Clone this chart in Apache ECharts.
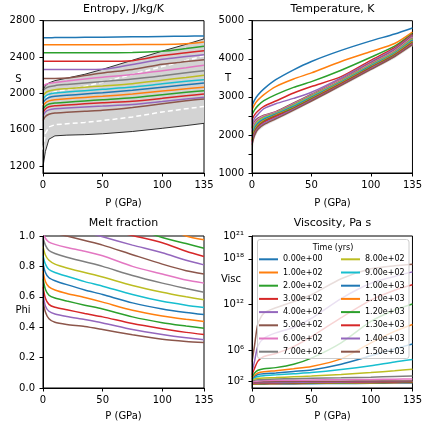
<!DOCTYPE html>
<html><head><meta charset="utf-8">
<script src="https://cdn.jsdelivr.net/npm/echarts@6/dist/echarts.min.js"></script>
<style>html,body{margin:0;padding:0;background:#fff}#c{width:425px;height:428px}</style>
</head><body><div id="c"></div>
<script>
// ---------------- data ----------------
const pressure = [0, 2, 5, 10, 20, 35, 50, 75, 100, 120, 135];
const timeLabels = ['0.00e+00','1.00e+02','2.00e+02','3.00e+02','4.00e+02','5.00e+02','6.00e+02','7.00e+02',
                    '8.00e+02','9.00e+02','1.00e+03','1.10e+03','1.20e+03','1.30e+03','1.40e+03','1.50e+03'];
const lineColors = ['#1f77b4','#ff7f0e','#2ca02c','#d62728','#9467bd','#8c564b','#e377c2','#7f7f7f',
                    '#bcbd22','#17becf','#1f77b4','#ff7f0e','#2ca02c','#d62728','#9467bd','#8c564b'];

const pTicks = [0, 50, 100, 135];
const entropyTicks = [1200, 1600, 2000, 2400, 2800];
const temperatureTicks = [1000, 1500, 2000, 2500, 3000, 3500, 4000, 4500, 5000];
const temperatureLabels = [1000, 2000, 3000, 4000, 5000];
const phiTicks = [0, 0.2, 0.4, 0.6, 0.8, 1.0];
const viscosityTicks = [1e2, 1e6, 1e12, 1e18, 1e21];

// Entropy (J/kg/K)
const entropySolidus  = [1195, 1360, 1495, 1532, 1540, 1545, 1555, 1580, 1615, 1645, 1670];
const entropyLiquidus = [2040, 2085, 2115, 2140, 2168, 2210, 2265, 2365, 2465, 2540, 2600];
const entropyDashLow  = [1380, 1560, 1630, 1655, 1665, 1680, 1700, 1740, 1795, 1830, 1855];
const entropyDashHigh = [1870, 1940, 1990, 2018, 2042, 2077, 2123, 2208, 2295, 2362, 2414];
const entropyByTime = [
  [2612,2612,2613,2614,2615,2617,2619,2622,2626,2629,2632],
  [2536,2536,2536,2536,2536,2536,2536,2537,2538,2547,2566],
  [2448,2448,2448,2448,2448,2448,2448,2449,2463,2493,2518],
  [2353,2353,2353,2353,2353,2353,2353,2360,2416,2447,2470],
  [2262,2262,2262,2262,2262,2262,2265,2318,2376,2405,2426],
  [2163,2163,2163,2163,2168,2196,2225,2263,2320,2350,2371],
  [2078,2098,2110,2120,2135,2158,2178,2208,2250,2283,2309],
  [2030,2055,2072,2085,2098,2115,2130,2158,2195,2228,2250],
  [1975,2005,2025,2040,2052,2068,2082,2107,2145,2175,2199],
  [1935,1968,1990,2004,2015,2030,2045,2070,2105,2132,2150],
  [1895,1930,1955,1968,1978,1993,2007,2034,2068,2095,2114],
  [1860,1895,1917,1930,1940,1955,1968,1993,2025,2050,2067],
  [1825,1860,1882,1894,1903,1917,1930,1952,1985,2012,2030],
  [1790,1828,1852,1864,1872,1885,1897,1914,1945,1973,1993],
  [1750,1795,1818,1831,1838,1850,1860,1878,1910,1937,1957],
  [1700,1745,1770,1784,1792,1803,1813,1845,1885,1918,1938]
];

// Temperature (K)
const temperatureSolidus  = [1500,1880,2090,2220,2380,2610,2850,3260,3680,4010,4320];
const temperatureLiquidus = [2180,2340,2440,2520,2610,2840,3070,3460,3890,4230,4600];
const temperatureByTime = [
  [2770,2910,3050,3210,3450,3710,3930,4220,4470,4650,4810],
  [2660,2790,2915,3060,3270,3470,3630,3930,4190,4400,4700],
  [2530,2650,2770,2900,3060,3250,3400,3700,4040,4330,4660],
  [2400,2520,2630,2750,2890,3100,3270,3530,3960,4290,4640],
  [2290,2430,2540,2690,2820,2960,3120,3500,3920,4260,4620],
  [2180,2340,2440,2520,2610,2840,3070,3460,3890,4230,4600],
  [2120,2300,2410,2498,2595,2820,3052,3445,3872,4210,4575],
  [2070,2260,2380,2475,2580,2800,3035,3428,3855,4190,4550],
  [2020,2220,2350,2452,2565,2780,3017,3412,3838,4172,4525],
  [1975,2180,2320,2430,2550,2760,3000,3395,3820,4155,4500],
  [1930,2145,2290,2405,2535,2740,2982,3380,3804,4137,4478],
  [1890,2110,2260,2382,2518,2722,2965,3363,3788,4120,4455],
  [1850,2075,2230,2358,2502,2703,2945,3347,3770,4102,4432],
  [1815,2040,2205,2335,2485,2685,2928,3331,3754,4085,4410],
  [1778,2010,2178,2302,2452,2668,2910,3315,3737,4072,4395],
  [1740,1980,2150,2270,2420,2650,2890,3300,3720,4060,4370]
];

// Melt fraction
const meltFractionByTime = [
  [1.90,1.70,1.60,1.55,1.50,1.42,1.35,1.25,1.15,1.08,1.03],
  [1.75,1.55,1.45,1.40,1.35,1.30,1.24,1.16,1.07,1.00,0.975],
  [1.64,1.45,1.36,1.30,1.26,1.20,1.14,1.06,0.99,0.95,0.92],
  [1.52,1.35,1.26,1.20,1.16,1.10,1.05,1.003,0.955,0.90,0.865],
  [1.40,1.24,1.15,1.10,1.07,1.03,0.995,0.94,0.89,0.84,0.81],
  [1.26,1.12,1.05,1.02,1.00,0.97,0.94,0.877,0.815,0.772,0.75],
  [1.02,0.985,0.96,0.945,0.925,0.90,0.87,0.80,0.75,0.71,0.69],
  [0.99,0.94,0.905,0.885,0.86,0.83,0.80,0.74,0.69,0.655,0.63],
  [0.93,0.875,0.84,0.815,0.79,0.76,0.73,0.675,0.63,0.60,0.58],
  [0.87,0.815,0.78,0.76,0.735,0.70,0.67,0.615,0.57,0.545,0.53],
  [0.82,0.76,0.725,0.706,0.68,0.645,0.615,0.56,0.52,0.497,0.483],
  [0.77,0.70,0.665,0.645,0.622,0.595,0.565,0.512,0.474,0.452,0.438],
  [0.717,0.65,0.61,0.592,0.572,0.545,0.52,0.468,0.43,0.408,0.393],
  [0.665,0.59,0.55,0.531,0.515,0.49,0.468,0.424,0.39,0.366,0.352],
  [0.62,0.54,0.505,0.487,0.47,0.45,0.428,0.385,0.352,0.33,0.317],
  [0.57,0.50,0.455,0.432,0.418,0.405,0.385,0.35,0.32,0.306,0.30]
];

// Viscosity, log10 (Pa s)
const viscosityLog10ByTime = [
  [1.55,1.56,1.57,1.58,1.60,1.62,1.64,1.67,1.70,1.72,1.75],
  [1.60,1.61,1.62,1.63,1.65,1.67,1.69,1.72,1.75,1.78,1.80],
  [1.65,1.66,1.67,1.68,1.70,1.72,1.74,1.77,1.80,1.83,1.85],
  [1.70,1.71,1.72,1.73,1.75,1.77,1.79,1.83,1.86,1.88,1.90],
  [1.75,1.76,1.78,1.79,1.80,1.82,1.85,1.88,1.91,1.93,1.95],
  [1.80,1.85,1.88,1.90,1.92,1.94,1.96,1.98,2.00,2.00,2.00],
  [1.90,1.95,2.00,2.05,2.08,2.10,2.12,2.17,2.20,2.24,2.27],
  [2.00,2.10,2.15,2.20,2.25,2.30,2.35,2.42,2.50,2.60,2.66],
  [2.10,2.25,2.35,2.40,2.45,2.55,2.65,2.85,3.10,3.35,3.55],
  [2.20,2.45,2.60,2.70,2.80,2.95,3.10,3.50,4.00,4.50,4.80],
  [2.30,2.60,2.85,2.95,3.05,3.25,3.45,4.20,5.30,6.20,6.85],
  [2.40,2.75,3.05,3.20,3.35,3.60,3.90,4.90,7.00,8.50,9.40],
  [2.50,3.00,3.40,3.60,3.75,4.20,5.00,7.00,9.80,11.30,12.10],
  [2.80,3.60,4.60,5.20,5.60,6.50,7.80,10.30,12.60,13.90,14.60],
  [3.20,4.50,6.60,7.60,8.30,9.00,10.20,12.80,14.80,15.70,16.30],
  [4.50,6.50,9.50,10.90,11.60,12.40,13.30,15.40,16.70,17.10,17.30]
];

// ---------------- chart ----------------
const FONT = 'DejaVu Sans';
const SMOOTH = 0.25;
const supMap = {'0':'\u2070','1':'\u00b9','2':'\u00b2','3':'\u00b3','4':'\u2074','5':'\u2075','6':'\u2076','7':'\u2077','8':'\u2078','9':'\u2079'};
function pts(arr, f) { return pressure.map((p, j) => [p, f ? f(arr[j]) : arr[j]]); }

const grids = [
  {left: 43, top: 20.7, width: 161, height: 152.3},
  {left: 252, top: 20.7, width: 161, height: 152.3},
  {left: 43, top: 236, width: 161, height: 152},
  {left: 252, top: 236, width: 161, height: 152}
].map(g => Object.assign(g, {show: true, borderColor: '#000', borderWidth: 1, backgroundColor: 'transparent', containLabel: false}));

function xAxisFor(i) {
  return {
    gridIndex: i, type: 'value', min: 0, max: 135, z: 10,
    axisLine: {show: true, onZero: false, lineStyle: {color: '#000', width: 1}},
    axisTick: {show: true, length: 3.5, lineStyle: {color: '#000', width: 1}, customValues: pTicks},
    axisLabel: {customValues: pTicks, color: '#000', fontSize: 10, fontFamily: FONT, margin: 7, formatter: v => String(v)},
    splitLine: {show: false}
  };
}
function yBase(i) {
  return {
    gridIndex: i, z: 10,
    axisLine: {show: true, onZero: false, lineStyle: {color: '#000', width: 1}},
    axisTick: {show: true, length: 3.5, lineStyle: {color: '#000', width: 1}},
    axisLabel: {color: '#000', fontSize: 10, fontFamily: FONT, margin: 8, formatter: v => String(v)},
    splitLine: {show: false}
  };
}
const yAxes = [
  Object.assign(yBase(0), {type: 'value', min: 1123, max: 2800}),
  Object.assign(yBase(1), {type: 'value', min: 1000, max: 5000}),
  Object.assign(yBase(2), {type: 'value', min: 0, max: 1}),
  Object.assign(yBase(3), {type: 'log', logBase: 10, min: Math.pow(10, 1.08), max: 1.0005e21})
];
yAxes[0].axisTick.customValues = entropyTicks; yAxes[0].axisLabel.customValues = entropyTicks;
yAxes[1].axisTick.customValues = temperatureTicks; yAxes[1].axisLabel.customValues = temperatureLabels;
yAxes[2].axisTick.customValues = phiTicks; yAxes[2].axisLabel.customValues = phiTicks;
yAxes[2].axisLabel.formatter = v => v.toFixed(1);
yAxes[3].axisTick.customValues = viscosityTicks; yAxes[3].axisLabel.customValues = viscosityTicks;
yAxes[3].axisLabel.formatter = v => '10' + String(Math.round(Math.log10(v))).split('').map(c => supMap[c]).join('');

const series = [];
// Mixed-phase bands as polygons through the axes' scales
function bandSeries(idx, lower, upper, color) {
  return {
    type: 'custom', xAxisIndex: idx, yAxisIndex: idx, data: [[0, lower[0]]], z: 1, silent: true, clip: true,
    renderItem: function (params, api) {
      const top = pressure.map((p, j) => api.coord([p, upper[j]]));
      const bottom = pressure.map((p, j) => api.coord([p, lower[j]])).reverse();
      return {type: 'polygon', shape: {points: top.concat(bottom)}, style: {fill: color, stroke: null}};
    }
  };
}
series.push(bandSeries(0, entropySolidus, entropyLiquidus, '#d3d3d3'));
series.push(bandSeries(1, temperatureSolidus, temperatureLiquidus, '#e3e3e3'));
series.push({type: 'line', xAxisIndex: 0, yAxisIndex: 0, data: pts(entropySolidus), symbol: 'none', smooth: 0,
  lineStyle: {color: '#000', width: 0.8}, z: 2, silent: true});
series.push({type: 'line', xAxisIndex: 0, yAxisIndex: 0, data: pts(entropyLiquidus), symbol: 'none', smooth: 0,
  lineStyle: {color: '#000', width: 0.8}, z: 2, silent: true});
series.push({type: 'line', xAxisIndex: 0, yAxisIndex: 0, data: pts(entropyDashLow), symbol: 'none', smooth: 0,
  lineStyle: {color: '#fff', width: 1.5, type: [5, 3]}, z: 2, silent: true});
series.push({type: 'line', xAxisIndex: 0, yAxisIndex: 0, data: pts(entropyDashHigh), symbol: 'none', smooth: 0,
  lineStyle: {color: '#fff', width: 1.5, type: [5, 3]}, z: 2, silent: true});

function addLines(values, idx, f) {
  values.forEach((arr, i) => {
    series.push({name: timeLabels[i], type: 'line', xAxisIndex: idx, yAxisIndex: idx, data: pts(arr, f),
      symbol: 'none', smooth: SMOOTH, clip: true,
      lineStyle: {color: lineColors[i], width: 1.5}, itemStyle: {color: lineColors[i]}, z: 3, silent: true});
  });
}
addLines(entropyByTime, 0);
addLines(temperatureByTime, 1);
addLines(meltFractionByTime, 2);
addLines(viscosityLog10ByTime, 3, v => Math.pow(10, v));

function txt(text, x, y, size) {
  return {type: 'text', x: x, y: y, z: 60, silent: true,
    style: {text: text, fill: '#000', font: size + 'px "' + FONT + '"', fontSize: size, fontFamily: FONT,
            textAlign: 'center', textVerticalAlign: 'middle', align: 'center', verticalAlign: 'middle'}};
}
const legendCommon = {orient: 'vertical', itemWidth: 19, itemHeight: 2, itemGap: 3.2, icon: 'rect', padding: 0,
  selectedMode: false, z: 60, textStyle: {color: '#000', fontSize: 8, fontFamily: FONT, lineHeight: 10}};

const option = {
  animation: false,
  backgroundColor: '#fff',
  grid: grids,
  xAxis: [0, 1, 2, 3].map(xAxisFor),
  yAxis: yAxes,
  legend: [
    Object.assign({}, legendCommon, {left: 259, top: 254.3, data: timeLabels.slice(0, 8)}),
    Object.assign({}, legendCommon, {left: 341, top: 254.3, data: timeLabels.slice(8)})
  ],
  graphic: {elements: [
    {type: 'rect', z: 50, silent: true, shape: {x: 257.5, y: 239.5, width: 151.5, height: 119, r: 2.5},
     style: {fill: 'rgba(255,255,255,0.8)', stroke: '#cccccc', lineWidth: 1}},
    txt('Time (yrs)', 333, 247.5, 8),
    txt('Entropy, J/kg/K', 123.5, 9.5, 11), txt('Temperature, K', 332.5, 9.5, 11),
    txt('Melt fraction', 123.5, 223.5, 11), txt('Viscosity, Pa s', 332.5, 223.5, 11),
    txt('P (GPa)', 123.5, 203, 10), txt('P (GPa)', 332.5, 203, 10),
    txt('P (GPa)', 123.5, 416.7, 10), txt('P (GPa)', 332.5, 416.7, 10),
    txt('S', 18.3, 79, 10), txt('T', 228, 78, 10), txt('Phi', 23, 310.7, 10), txt('Visc', 231, 279, 10)
  ]},
  series: series
};
const chart = echarts.init(document.getElementById('c'), null, {renderer: 'canvas'});
chart.setOption(option);
</script>
</body></html>
